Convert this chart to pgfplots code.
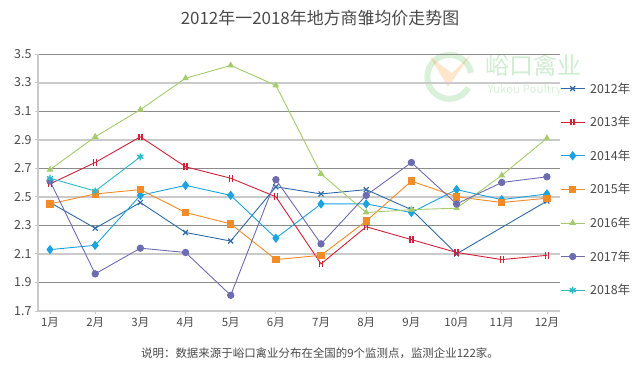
\documentclass[border=0pt]{standalone}
\usepackage{fontspec}
\setmainfont{Noto Sans CJK SC}
\usepackage{pgfplots}
\pgfplotsset{compat=1.18}

\definecolor{c12}{HTML}{2F6BA8}
\definecolor{c13}{HTML}{D3213A}
\definecolor{c14}{HTML}{1AA3DF}
\definecolor{c15}{HTML}{F48B29}
\definecolor{c16}{HTML}{A5CB6B}
\definecolor{c17}{HTML}{6E6CB0}
\definecolor{c18}{HTML}{2CB9CC}
\definecolor{gdark}{HTML}{8C8C8C}
\definecolor{glight}{HTML}{CACACA}
\definecolor{txt}{HTML}{4A4A4A}

\pgfdeclareplotmark{II}{%
  \pgfsetlinewidth{1.4pt}%
  \pgfpathmoveto{\pgfqpoint{-1.5pt}{-\pgfplotmarksize}}%
  \pgfpathlineto{\pgfqpoint{-1.5pt}{\pgfplotmarksize}}%
  \pgfpathmoveto{\pgfqpoint{1.5pt}{-\pgfplotmarksize}}%
  \pgfpathlineto{\pgfqpoint{1.5pt}{\pgfplotmarksize}}%
  \pgfusepathqstroke}

\begin{document}
\begin{tikzpicture}[x=1bp,y=1bp]
\path[use as bounding box] (0,0) rectangle (642,373);
% watermark
\node[text=green!60!black, opacity=0.18, font=\fontsize{24}{24}\selectfont, anchor=west] at (482,308) {峪口禽业};
\node[text=green!60!black, opacity=0.15, font=\fontsize{11.5}{11.5}\selectfont, anchor=west] at (484,283) {Yukou Poultry};
\draw[green!60!black, opacity=0.15, line width=6bp] (471,300) arc[start angle=10, end angle=330, radius=22bp];
\fill[orange, opacity=0.2] (430,316) -- (448,286) -- (472,320) -- (452,300) -- cycle;
\begin{axis}[
  at={(38bp,62bp)}, anchor=south west,
  width=522bp, height=257bp, scale only axis,
  xmin=0.734, xmax=12.29, ymin=1.7, ymax=3.5,
  axis x line*=bottom, axis y line*=left,
  axis line style={glight, line width=1.2bp},
  x axis line style={-}, y axis line style={-},
  xtick={1,...,12},
  xticklabels={1月,2月,3月,4月,5月,6月,7月,8月,9月,10月,11月,12月},
  ytick={1.9,2.3,2.7,3.1,3.5},
  extra y ticks={1.7,2.1,2.5,2.9,3.3},
  extra y tick style={grid style={glight, line width=2bp}},
  ymajorgrids, grid style={gdark, line width=0.7bp},
  yticklabel style={/pgf/number format/fixed, /pgf/number format/precision=1, /pgf/number format/fixed zerofill},
  /pgf/number format/assume math mode=true,
  tick label style={font=\fontsize{12.5}{14}\selectfont, text=txt},
  xticklabel style={font=\fontsize{11.5}{13}\selectfont},
  major tick length=3bp,
  tick style={glight, line width=0.8bp},
  xtick align=outside, ytick align=outside,
  clip=false,
  legend style={at={(1.0,0.905)}, anchor=north west, draw=none, fill=none,
    font=\fontsize{12.5}{14}\selectfont, text=txt, row sep=17.6bp, column sep=3bp, inner xsep=0pt},
  legend cell align=left,
  legend image code/.code={\draw[mark repeat=2,mark phase=2] plot coordinates {(0bp,0bp)(12bp,0bp)(24bp,0bp)};},
  every axis plot/.append style={line width=0.9bp},
]
\addplot[c12, mark=x, mark size=3.5bp, mark options={line width=1.2bp}] coordinates {(1,2.46)(2,2.28)(3,2.46)(4,2.25)(5,2.19)(6,2.57)(7,2.52)(8,2.55)(9,2.41)(10,2.10)(12,2.47)};
\addlegendentry{2012年}
\addplot[c13, mark=II, mark size=3.3bp] coordinates {(1,2.59)(2,2.74)(3,2.92)(4,2.71)(5,2.63)(6,2.50)(7,2.03)(8,2.29)(9,2.20)(10,2.11)(11,2.06)(12,2.09)};
\addlegendentry{2013年}
\addplot[c14, mark=diamond*, mark size=4bp] coordinates {(1,2.13)(2,2.16)(3,2.51)(4,2.58)(5,2.51)(6,2.21)(7,2.45)(8,2.45)(9,2.39)(10,2.55)(11,2.48)(12,2.52)};
\addlegendentry{2014年}
\addplot[c15, mark=square*, mark size=3.2bp] coordinates {(1,2.45)(2,2.52)(3,2.55)(4,2.39)(5,2.31)(6,2.06)(7,2.09)(8,2.33)(9,2.61)(10,2.50)(11,2.46)(12,2.49)};
\addlegendentry{2015年}
\addplot[c16, mark=triangle*, mark size=3bp] coordinates {(1,2.69)(2,2.92)(3,3.11)(4,3.33)(5,3.42)(6,3.28)(7,2.66)(8,2.39)(9,2.41)(10,2.42)(11,2.65)(12,2.91)};
\addlegendentry{2016年}
\addplot[c17, mark=*, mark size=3.2bp] coordinates {(1,2.61)(2,1.96)(3,2.14)(4,2.11)(5,1.81)(6,2.62)(7,2.17)(8,2.51)(9,2.74)(10,2.45)(11,2.60)(12,2.64)};
\addlegendentry{2017年}
\addplot[c18, mark=asterisk, mark size=3.5bp, mark options={line width=1.4bp}] coordinates {(1,2.63)(2,2.54)(3,2.78)};
\addlegendentry{2018年}
\end{axis}
\node[text=txt, font=\fontsize{17}{17}\selectfont] at (320,355) {2012年一2018年地方商雏均价走势图};
\node[text=txt, font=\fontsize{11.5}{12}\selectfont] at (320,20) {说明：数据来源于峪口禽业分布在全国的9个监测点，监测企业122家。};
\end{tikzpicture}
\end{document}
